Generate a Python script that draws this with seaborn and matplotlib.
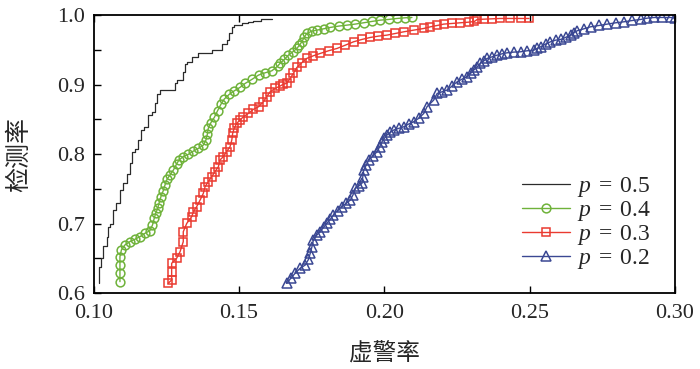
import matplotlib
matplotlib.use("Agg")
import matplotlib.pyplot as plt
from matplotlib.ticker import MultipleLocator
import seaborn as sns

# ROC curves (false alarm rate, detection rate)
p05_x = [0.1018, 0.1026, 0.1032, 0.1044, 0.1049, 0.1055, 0.1067, 0.1078, 0.1090, 0.1101,
         0.1113, 0.1124, 0.1130, 0.1141, 0.1153, 0.1164, 0.1174, 0.1187, 0.1199, 0.1210,
         0.1216, 0.1228, 0.1251, 0.1279, 0.1285, 0.1308, 0.1314, 0.1320, 0.1337, 0.1360,
         0.1383, 0.1406, 0.1441, 0.1458, 0.1464, 0.1475, 0.1481, 0.1510, 0.1532, 0.1549,
         0.1575, 0.1613]
p05_y = [0.614, 0.638, 0.650, 0.667, 0.681, 0.695, 0.700, 0.719, 0.729, 0.748,
         0.758, 0.772, 0.787, 0.803, 0.808, 0.820, 0.835, 0.839, 0.856, 0.861,
         0.873, 0.887, 0.892, 0.892, 0.902, 0.907, 0.918, 0.930, 0.933, 0.940,
         0.945, 0.946, 0.950, 0.959, 0.964, 0.974, 0.983, 0.986, 0.988, 0.990,
         0.991, 0.994]

p04_x = [0.1090, 0.1090, 0.1090, 0.1090, 0.1095, 0.1107, 0.1124, 0.1141, 0.1159, 0.1176,
         0.1193, 0.1202, 0.1208, 0.1213, 0.1220, 0.1225, 0.1231, 0.1239, 0.1245, 0.1252,
         0.1262, 0.1274, 0.1285, 0.1293, 0.1308, 0.1325, 0.1343, 0.1360, 0.1377, 0.1386,
         0.1391, 0.1394, 0.1403, 0.1415, 0.1426, 0.1438, 0.1449, 0.1466, 0.1484, 0.1503,
         0.1521, 0.1544, 0.1567, 0.1590, 0.1613, 0.1633, 0.1641, 0.1656, 0.1670, 0.1685,
         0.1699, 0.1708, 0.1716, 0.1724, 0.1733, 0.1751, 0.1768, 0.1791, 0.1814, 0.1843,
         0.1871, 0.1900, 0.1929, 0.1957, 0.1986, 0.2015, 0.2044, 0.2072, 0.2095]
p04_y = [0.6163, 0.6283, 0.6403, 0.6523, 0.6619, 0.6691, 0.6739, 0.6772, 0.6811, 0.6859,
         0.6897, 0.6978, 0.7074, 0.7146, 0.7218, 0.7300, 0.7386, 0.7472, 0.7554, 0.7636,
         0.7698, 0.7770, 0.7856, 0.7914, 0.7962, 0.7995, 0.8043, 0.8082, 0.8129, 0.8201,
         0.8288, 0.8369, 0.8451, 0.8528, 0.8623, 0.8719, 0.8791, 0.8859, 0.8911, 0.8959,
         0.9017, 0.9074, 0.9137, 0.9170, 0.9199, 0.9266, 0.9305, 0.9362, 0.9424, 0.9472,
         0.9520, 0.9568, 0.9616, 0.9679, 0.9736, 0.9770, 0.9784, 0.9803, 0.9823, 0.9842,
         0.9856, 0.9871, 0.9890, 0.9909, 0.9928, 0.9938, 0.9952, 0.9962, 0.9966]

p03_x = [0.1256, 0.1268, 0.1268, 0.1268, 0.1285, 0.1297, 0.1308, 0.1308, 0.1320, 0.1337,
         0.1343, 0.1354, 0.1366, 0.1377, 0.1383, 0.1394, 0.1406, 0.1417, 0.1429, 0.1434,
         0.1446, 0.1457, 0.1469, 0.1475, 0.1478, 0.1483, 0.1492, 0.1503, 0.1515, 0.1532,
         0.1549, 0.1567, 0.1584, 0.1595, 0.1607, 0.1624, 0.1641, 0.1653, 0.1664, 0.1676,
         0.1687, 0.1699, 0.1716, 0.1733, 0.1756, 0.1779, 0.1808, 0.1837, 0.1866, 0.1894,
         0.1923, 0.1952, 0.1980, 0.2009, 0.2038, 0.2067, 0.2101, 0.2136, 0.2159, 0.2182,
         0.2205, 0.2233, 0.2262, 0.2291, 0.2310, 0.2320, 0.2343, 0.2371, 0.2400, 0.2434,
         0.2469, 0.2498]
p03_y = [0.6139, 0.6187, 0.6307, 0.6427, 0.6499, 0.6595, 0.6739, 0.6882, 0.7002, 0.7098,
         0.7170, 0.7242, 0.7338, 0.7434, 0.7530, 0.7602, 0.7674, 0.7746, 0.7818, 0.7914,
         0.7962, 0.8034, 0.8106, 0.8201, 0.8297, 0.8369, 0.8441, 0.8489, 0.8537, 0.8585,
         0.8643, 0.8681, 0.8753, 0.8825, 0.8897, 0.8945, 0.8978, 0.9007, 0.9017, 0.9089,
         0.9161, 0.9247, 0.9314, 0.9377, 0.9415, 0.9448, 0.9487, 0.9520, 0.9568, 0.9616,
         0.9650, 0.9679, 0.9698, 0.9712, 0.9736, 0.9760, 0.9784, 0.9808, 0.9832, 0.9851,
         0.9871, 0.9880, 0.9890, 0.9899, 0.9909, 0.9938, 0.9942, 0.9947, 0.9952, 0.9952,
         0.9952, 0.9952]

p02_x = [0.1664, 0.1678, 0.1693, 0.1710, 0.1728, 0.1739, 0.1745, 0.1751, 0.1756, 0.1768,
         0.1779, 0.1791, 0.1802, 0.1814, 0.1825, 0.1839, 0.1854, 0.1869, 0.1883, 0.1892,
         0.1900, 0.1912, 0.1923, 0.1926, 0.1929, 0.1938, 0.1946, 0.1961, 0.1975, 0.1984,
         0.1992, 0.2000, 0.2009, 0.2021, 0.2032, 0.2049, 0.2067, 0.2084, 0.2101, 0.2118,
         0.2136, 0.2147, 0.2170, 0.2182, 0.2199, 0.2216, 0.2233, 0.2251, 0.2268, 0.2285,
         0.2297, 0.2308, 0.2320, 0.2331, 0.2343, 0.2354, 0.2371, 0.2389, 0.2406, 0.2423,
         0.2446, 0.2469, 0.2492, 0.2515, 0.2526, 0.2538, 0.2555, 0.2572, 0.2590, 0.2607,
         0.2624, 0.2641, 0.2653, 0.2664, 0.2687, 0.2710, 0.2739, 0.2768, 0.2797, 0.2825,
         0.2854, 0.2883, 0.2906, 0.2929, 0.2957, 0.2986, 0.3000]
p02_y = [0.6139, 0.6211, 0.6283, 0.6355, 0.6403, 0.6484, 0.6571, 0.6667, 0.6763, 0.6835,
         0.6882, 0.6945, 0.7002, 0.7060, 0.7122, 0.7185, 0.7242, 0.7290, 0.7338, 0.7410,
         0.7506, 0.7540, 0.7578, 0.7674, 0.7770, 0.7842, 0.7914, 0.7971, 0.8034, 0.8106,
         0.8177, 0.8225, 0.8273, 0.8312, 0.8345, 0.8369, 0.8393, 0.8432, 0.8465, 0.8513,
         0.8585, 0.8681, 0.8777, 0.8873, 0.8897, 0.8921, 0.8978, 0.9041, 0.9079, 0.9113,
         0.9161, 0.9209, 0.9257, 0.9305, 0.9343, 0.9377, 0.9400, 0.9424, 0.9444, 0.9458,
         0.9468, 0.9472, 0.9487, 0.9496, 0.9520, 0.9544, 0.9583, 0.9616, 0.9640, 0.9650,
         0.9679, 0.9712, 0.9746, 0.9775, 0.9803, 0.9832, 0.9851, 0.9871, 0.9890, 0.9904,
         0.9923, 0.9938, 0.9957, 0.9966, 0.9966, 0.9966, 0.9960]

labels = [r"$p\;=\;0.5$", r"$p\;=\;0.4$", r"$p\;=\;0.3$", r"$p\;=\;0.2$"]
colors = ["#2b2b2b", "#6fb23a", "#ea3a30", "#3b4893"]

sns.set_theme(style="ticks")
plt.rcParams["font.family"] = ["Liberation Serif", "Noto Sans CJK SC"]
plt.rcParams["mathtext.fontset"] = "custom"
plt.rcParams["mathtext.it"] = "Liberation Serif:italic"
plt.rcParams["mathtext.rm"] = "Liberation Serif"

fig, ax = plt.subplots(figsize=(7, 3.69), dpi=100)
fig.subplots_adjust(left=0.134, right=0.964, top=0.959, bottom=0.206)

sns.lineplot(x=p05_x, y=p05_y, ax=ax, estimator=None, sort=False, color=colors[0],
             linewidth=0.9, drawstyle="steps-pre", label=labels[0])
sns.lineplot(x=p04_x, y=p04_y, ax=ax, estimator=None, sort=False, color=colors[1],
             linewidth=1, marker="o", markersize=6.3, mfc="none", mec=colors[1],
             mew=1.1, label=labels[1])
sns.lineplot(x=p03_x, y=p03_y, ax=ax, estimator=None, sort=False, color=colors[2],
             linewidth=1, marker="s", markersize=5.7, mfc="none", mec=colors[2],
             mew=1.1, label=labels[2])
sns.lineplot(x=p02_x, y=p02_y, ax=ax, estimator=None, sort=False, color=colors[3],
             linewidth=1, marker="^", markersize=6.8, mfc="none", mec=colors[3],
             mew=1.1, label=labels[3])

ax.set_xlim(0.10, 0.30)
ax.set_ylim(0.6, 1.0)
ax.xaxis.set_major_locator(MultipleLocator(0.05))
ax.yaxis.set_major_locator(MultipleLocator(0.1))
ax.yaxis.set_minor_locator(MultipleLocator(0.05))
ax.set_xticklabels([f"{v:.2f}" for v in ax.get_xticks()])
ax.set_yticklabels([f"{v:.1f}" for v in ax.get_yticks()])
ax.tick_params(axis="x", which="major", direction="in", length=5, width=1,
               top=True, labelsize=16, pad=8, color="black")
ax.tick_params(axis="y", which="both", direction="in", length=5, width=1,
               right=False, labelsize=16, pad=6, color="black")
for s in ax.spines.values():
    s.set_color("black")
    s.set_linewidth(1.3)

ax.set_xlabel("虚警率", fontsize=17, family=["Noto Sans CJK SC"], labelpad=13)
ax.set_ylabel("检测率", fontsize=18, family=["Noto Sans CJK SC"], labelpad=18)

ax.legend(loc="lower right", frameon=False, fontsize=17, numpoints=1,
          handlelength=2.0, handletextpad=0.3, labelspacing=0.0,
          borderaxespad=0, bbox_to_anchor=(0.975, 0.045))

fig.savefig("out.png", dpi=100)
